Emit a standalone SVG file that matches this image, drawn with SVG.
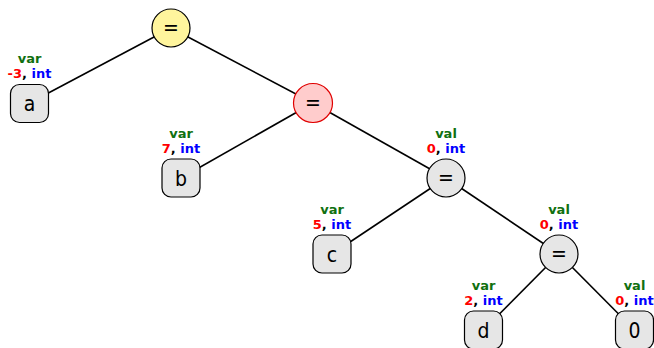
<svg xmlns="http://www.w3.org/2000/svg" width="654" height="348" viewBox="0 0 654 348">
<style>
.edge{stroke:#000;stroke-width:1.6;fill:none}
.box{fill:#e6e6e6;stroke:#000;stroke-width:1.2}
.op{fill:#e6e6e6;stroke:#000;stroke-width:1.2}
.sym{font-family:"DejaVu Sans Condensed","DejaVu Sans",sans-serif;font-stretch:condensed;font-size:21px;text-anchor:middle;fill:#000}
.lab{font-family:"DejaVu Sans",sans-serif;font-size:13px;font-weight:bold;text-anchor:middle}
.g{fill:#107010}
.r{fill:#ff0000}
.b{fill:#0000ff}
</style>
<rect width="654" height="348" fill="#ffffff"/>
<g id="connectors">
<line class="edge" x1="171" y1="28" x2="29.5" y2="103"/>
<line class="edge" x1="171" y1="28" x2="313" y2="103"/>
<line class="edge" x1="313" y1="103" x2="181" y2="178"/>
<line class="edge" x1="313" y1="103" x2="446" y2="178"/>
<line class="edge" x1="446" y1="178" x2="332" y2="254"/>
<line class="edge" x1="446" y1="178" x2="559" y2="254"/>
<line class="edge" x1="559" y1="254" x2="483.5" y2="330"/>
<line class="edge" x1="559" y1="254" x2="634.5" y2="330"/>
</g>
<g id="root">
<circle cx="171" cy="28" r="19" fill="#fff59d" stroke="#000" stroke-width="1.2"/>
<text class="sym" x="171" y="35">=</text>
</g>
<g id="a">
<rect class="box" x="10.5" y="84.5" width="38" height="38" rx="9"/>
<text class="sym" x="29.5" y="110.5">a</text>
<text class="lab g" x="29.5" y="62.5">var</text>
<text class="lab" x="29.5" y="77.5"><tspan class="r">-3</tspan><tspan fill="#000">, </tspan><tspan class="b">int</tspan></text>
</g>
<g id="assign1">
<circle cx="313" cy="103" r="19.5" fill="#ffcccc" stroke="#e00000" stroke-width="1.2"/>
<text class="sym" x="313" y="110">=</text>
</g>
<g id="b">
<rect class="box" x="162" y="159" width="38" height="38" rx="9"/>
<text class="sym" x="181" y="185.5">b</text>
<text class="lab g" x="181" y="137.5">var</text>
<text class="lab" x="181" y="152.5"><tspan class="r">7</tspan><tspan fill="#000">, </tspan><tspan class="b">int</tspan></text>
</g>
<g id="assign2">
<circle class="op" cx="446" cy="178" r="19"/>
<text class="sym" x="446" y="185">=</text>
<text class="lab g" x="446" y="137.5">val</text>
<text class="lab" x="446" y="152.5"><tspan class="r">0</tspan><tspan fill="#000">, </tspan><tspan class="b">int</tspan></text>
</g>
<g id="c">
<rect class="box" x="313" y="235" width="38" height="38" rx="9"/>
<text class="sym" x="332" y="261.5">c</text>
<text class="lab g" x="332" y="213.5">var</text>
<text class="lab" x="332" y="228.5"><tspan class="r">5</tspan><tspan fill="#000">, </tspan><tspan class="b">int</tspan></text>
</g>
<g id="assign3">
<circle class="op" cx="559" cy="254" r="19"/>
<text class="sym" x="559" y="261">=</text>
<text class="lab g" x="559" y="213.5">val</text>
<text class="lab" x="559" y="228.5"><tspan class="r">0</tspan><tspan fill="#000">, </tspan><tspan class="b">int</tspan></text>
</g>
<g id="d">
<rect class="box" x="464.5" y="311" width="38" height="38" rx="9"/>
<text class="sym" x="483.5" y="337.5">d</text>
<text class="lab g" x="483.5" y="289.5">var</text>
<text class="lab" x="483.5" y="304.5"><tspan class="r">2</tspan><tspan fill="#000">, </tspan><tspan class="b">int</tspan></text>
</g>
<g id="zero">
<rect class="box" x="615.5" y="311" width="38" height="38" rx="9"/>
<text class="sym" x="634.5" y="337.5">0</text>
<text class="lab g" x="634.5" y="289.5">val</text>
<text class="lab" x="634.5" y="304.5"><tspan class="r">0</tspan><tspan fill="#000">, </tspan><tspan class="b">int</tspan></text>
</g>
</svg>
